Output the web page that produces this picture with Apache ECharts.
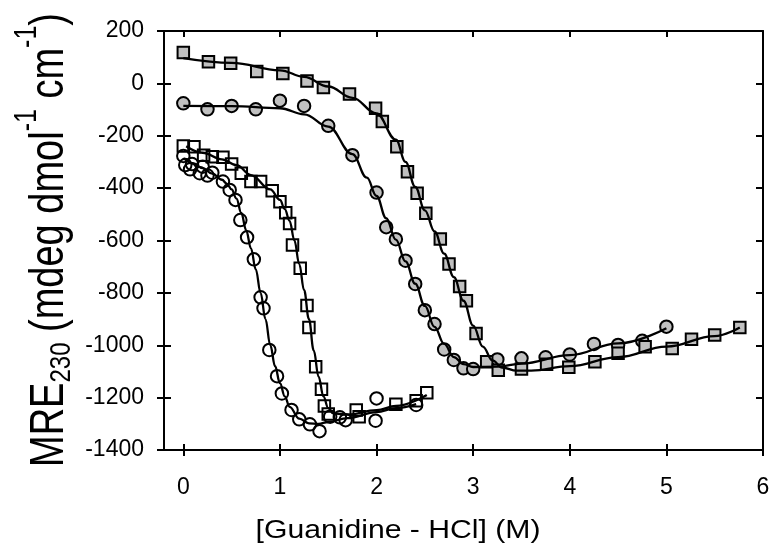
<!DOCTYPE html>
<html><head><meta charset="utf-8">
<script src="https://cdn.jsdelivr.net/npm/echarts@6/dist/echarts.min.js"></script>
<style>html,body{margin:0;padding:0;background:#fff}#c{width:773px;height:551px}</style>
</head><body><div id="c"></div>
<script>
// ---- data ----
const xTickValues = [0, 1, 2, 3, 4, 5, 6];
const xTitle = '[Guanidine - HCl] (M)';
const yTitleRich = '{m|MRE}{s|230}{m| (mdeg dmol}{p|-1}{m| cm}{p|-1}{m|)}';

const grayCircles = [[0,-76],[0.25,-99],[0.5,-86],[0.75,-99],[1.0,-66],[1.25,-86],[1.5,-162],[1.75,-274],[2.0,-417],[2.1,-549],[2.2,-595],[2.3,-677],[2.4,-766],[2.5,-866],[2.6,-919],[2.7,-1016],[2.8,-1056],[2.9,-1088],[3.0,-1091],[3.25,-1054],[3.5,-1050],[3.75,-1046],[4.0,-1035],[4.25,-995],[4.5,-999],[4.75,-983],[5.0,-929]];
const graySquares = [[0,118],[0.26,83],[0.49,77],[0.76,45],[1.03,38],[1.28,9],[1.45,-16],[1.72,-41],[1.99,-95],[2.06,-146],[2.21,-242],[2.32,-337],[2.42,-420],[2.51,-496],[2.66,-594],[2.75,-690],[2.86,-776],[2.93,-830],[3.03,-955],[3.14,-1063],[3.26,-1095],[3.5,-1091],[3.76,-1073],[3.99,-1084],[4.26,-1063],[4.5,-1031],[4.78,-1006],[5.06,-1012],[5.26,-977],[5.5,-961],[5.76,-932]];
const openCircles = [[0,-277],[0.02,-312],[0.07,-328],[0.09,-308],[0.17,-343],[0.2,-318],[0.25,-352],[0.3,-341],[0.41,-375],[0.48,-407],[0.54,-445],[0.59,-522],[0.66,-588],[0.73,-672],[0.8,-817],[0.83,-859],[0.89,-1018],[0.97,-1118],[1.02,-1184],[1.12,-1247],[1.2,-1283],[1.31,-1302],[1.41,-1328],[1.52,-1273],[1.62,-1275],[1.68,-1286],[1.99,-1288],[2.0,-1203],[2.41,-1228]];
const openSquares = [[0,-239],[0.11,-242],[0.21,-274],[0.3,-280],[0.41,-282],[0.5,-308],[0.6,-343],[0.7,-375],[0.8,-375],[0.92,-410],[1.0,-452],[1.06,-494],[1.1,-535],[1.13,-617],[1.21,-706],[1.28,-848],[1.3,-932],[1.37,-1082],[1.43,-1168],[1.46,-1232],[1.5,-1263],[1.79,-1247],[1.82,-1273],[2.2,-1225],[2.41,-1212],[2.52,-1181]];

const fitGraySquares = [[0,96],[0.5,78],[1.0,50],[1.25,25],[1.5,-12],[1.75,-55],[2.0,-115],[2.2,-215],[2.3,-300],[2.4,-395],[2.5,-485],[2.6,-565],[2.7,-650],[2.8,-740],[2.9,-830],[3.0,-925],[3.1,-1005],[3.2,-1058],[3.3,-1085],[3.45,-1097],[3.6,-1097],[4.0,-1080],[4.5,-1045],[5.0,-1005],[5.5,-965],[5.76,-932]];
const fitGrayCircles = [[0,-86],[0.5,-87],[1.0,-95],[1.25,-118],[1.5,-165],[1.75,-270],[1.9,-360],[2.0,-430],[2.1,-515],[2.2,-597],[2.3,-680],[2.4,-765],[2.5,-850],[2.6,-930],[2.7,-995],[2.8,-1045],[2.9,-1072],[3.0,-1083],[3.25,-1082],[3.5,-1070],[4.0,-1038],[4.5,-993],[5.0,-935]];
const fitOpenCircles = [[0,-285],[0.1,-305],[0.2,-324],[0.3,-345],[0.4,-368],[0.45,-383],[0.5,-405],[0.55,-440],[0.6,-495],[0.65,-560],[0.7,-630],[0.75,-710],[0.8,-800],[0.85,-900],[0.9,-1000],[0.95,-1080],[1.0,-1145],[1.05,-1195],[1.1,-1235],[1.2,-1280],[1.3,-1298],[1.4,-1300],[1.5,-1293],[1.7,-1278],[2.0,-1255],[2.2,-1240],[2.41,-1225]];
const fitOpenSquares = [[0.03,-240],[0.2,-265],[0.4,-290],[0.55,-312],[0.7,-350],[0.9,-405],[1.0,-445],[1.05,-480],[1.1,-525],[1.15,-600],[1.2,-690],[1.25,-790],[1.3,-900],[1.35,-1020],[1.4,-1120],[1.45,-1195],[1.5,-1240],[1.55,-1260],[1.7,-1265],[2.0,-1248],[2.2,-1232],[2.52,-1190]];

// ---- chart ----
const FONT = '"Liberation Sans", Arial, sans-serif';
const chart = echarts.init(document.getElementById('c'), null, {renderer: 'canvas'});
const lineW = 2;
const plain = v => String(Math.round(v * 1000) / 1000);
function xAx(pos, showLine, inside, showLabel) {
  return {
    type: 'value', position: pos, min: -0.2, max: 6, gridIndex: 0,
    axisLine: {show: showLine, onZero: false, lineStyle: {color: '#000', width: lineW}},
    axisTick: {show: true, inside: inside, length: 6, customValues: xTickValues, lineStyle: {color: '#000', width: lineW}},
    axisLabel: {show: showLabel, customValues: xTickValues, formatter: plain, fontSize: 23, fontFamily: FONT, color: '#000', margin: 26},
    splitLine: {show: false}
  };
}
function yAx(pos, showLine, inside, showLabel) {
  return {
    type: 'value', position: pos, min: -1400, max: 200, interval: 200, gridIndex: 0,
    axisLine: {show: showLine, onZero: false, lineStyle: {color: '#000', width: lineW}},
    axisTick: {show: true, inside: inside, length: 7, lineStyle: {color: '#000', width: lineW}},
    axisLabel: {show: showLabel, formatter: plain, fontSize: 23, fontFamily: FONT, color: '#000', margin: 20},
    splitLine: {show: false}
  };
}
function scatter(data, symbol, fill, size) {
  return {type: 'scatter', data: data, symbol: symbol, symbolSize: size, z: 2,
    itemStyle: {color: fill, borderColor: '#000', borderWidth: 2, opacity: 1},
    emphasis: {disabled: true}, silent: true};
}
function fit(data) {
  return {type: 'line', data: data, smooth: 0.4, smoothMonotone: 'x', showSymbol: false, symbol: 'none', z: 3,
    lineStyle: {color: '#000', width: 2.3}, silent: true};
}
chart.setOption({
  animation: false,
  backgroundColor: '#fff',
  grid: {left: 164, right: 10, top: 31, bottom: 101, containLabel: false, outerBoundsMode: 'none'},
  xAxis: [xAx('bottom', true, false, true), xAx('bottom', false, true, false), xAx('top', true, true, false)],
  yAxis: [yAx('left', true, false, true), yAx('left', false, true, false), yAx('right', true, true, false)],
  series: [
    scatter(openCircles, 'circle', 'rgba(255,255,255,0)', 12.5),
    scatter(openSquares, 'rect', 'rgba(255,255,255,0)', 11.5),
    scatter(grayCircles, 'circle', '#c0c0c0', 12.5),
    scatter(graySquares, 'rect', '#c0c0c0', 11.5),
    fit(fitOpenCircles), fit(fitOpenSquares), fit(fitGrayCircles), fit(fitGraySquares)
  ],
  graphic: [
    {type: 'text', x: 398, y: 531, scaleX: 1.16, silent: true,
     style: {text: xTitle, font: '26px ' + FONT, fill: '#000', align: 'center', verticalAlign: 'middle'}},
    {type: 'text', x: 50, y: 240, rotation: Math.PI / 2, scaleY: 1.25, silent: true,
     style: {text: yTitleRich, fill: '#000', align: 'center', verticalAlign: 'middle',
       rich: {
         m: {fontSize: 38, fontFamily: FONT, fill: '#000', lineHeight: 38, verticalAlign: 'middle'},
         s: {fontSize: 24, fontFamily: FONT, fill: '#000', lineHeight: 24, verticalAlign: 'middle', padding: [18, 0, 0, 0]},
         p: {fontSize: 25, fontFamily: FONT, fill: '#000', lineHeight: 25, verticalAlign: 'middle', padding: [0, 0, 36, 0]}
       }}}
  ]
});
</script></body></html>
